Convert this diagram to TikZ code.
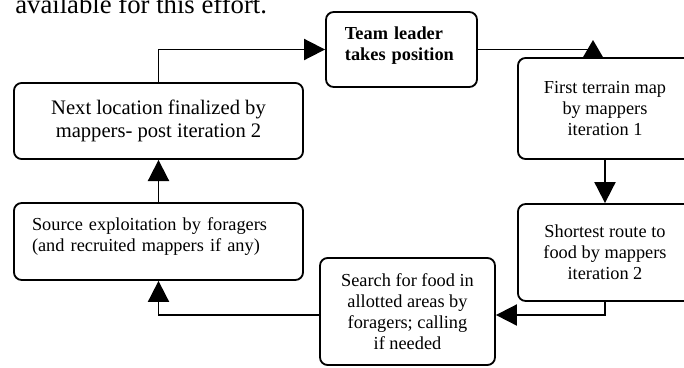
\documentclass[tikz,border=0pt]{standalone}
\usepackage{fontspec}
\setmainfont{Liberation Serif}
\usetikzlibrary{arrows.meta}

\begin{document}
\begin{tikzpicture}[x=0.655pt, y=-0.655pt,
        box/.style={draw, line width=1.2pt, rounded corners=5pt, align=center,
            font=\fontsize{12}{13.8}\selectfont},
        conn/.style={line width=1.2pt, -{Triangle[length=13.8pt,width=13.8pt]}}]
        \useasboundingbox (0,0) rectangle (684,368);
        \clip (0,0) rectangle (684,368);
        \node[anchor=base west, inner sep=0pt, font=\fontsize{17.5}{20}\selectfont] (caption) at (15,13) {available for this effort.};
        \node[box, minimum width=189.3pt, minimum height=49.8pt, font=\fontsize{13.5}{15.6}\selectfont] (next) at (158.5,121) {Next location finalized by\\mappers- post iteration 2};
        \node[box, align=left, text width=74.1pt, inner xsep=12.4pt, inner ysep=0pt,
            text height=17.7pt, text depth=31.4pt, font=\fontsize{12}{13.8}\selectfont\bfseries] (leader) at (401.5,49.5) {Team leader\\takes position};
        \node[box, minimum width=114pt, minimum height=66.2pt] (first) at (605,108.5) {First terrain map\\by mappers\\iteration 1};
        \node[box, minimum width=114pt, minimum height=63.5pt] (shortest) at (605,252.5) {Shortest route to\\food by mappers\\iteration 2};
        \node[box, minimum width=114.6pt, minimum height=70.1pt] (search) at (407.5,311.5) {Search for food in\\allotted areas by\\foragers; calling\\if needed};
        \node[box, align=left, text width=165.7pt, inner xsep=11.8pt, inner ysep=0pt,
            text height=18pt, text depth=32.4pt] (source) at (158.5,241.5) {Source exploitation by foragers\\(and recruited mappers if any)};
        % loop of the connectors
        \coordinate (tip) at (593,58);
        \draw[line width=1.2pt] (leader.east) -- (leader.east -| tip);
        \fill (tip) +(-10.5,0) -- +(10.5,0) -- +(0,-18) -- cycle;
        \draw[conn] (first.south) -- (shortest.north);
        \draw[conn] (shortest.south) |- ([yshift=-2.3pt]search.east);
        \draw[conn] ([yshift=-2.3pt]search.west) -| (source.south);
        \draw[conn] (source.north) -- (next.south);
        \draw[conn] (next.north) |- (leader.west);
\end{tikzpicture}
\end{document}
